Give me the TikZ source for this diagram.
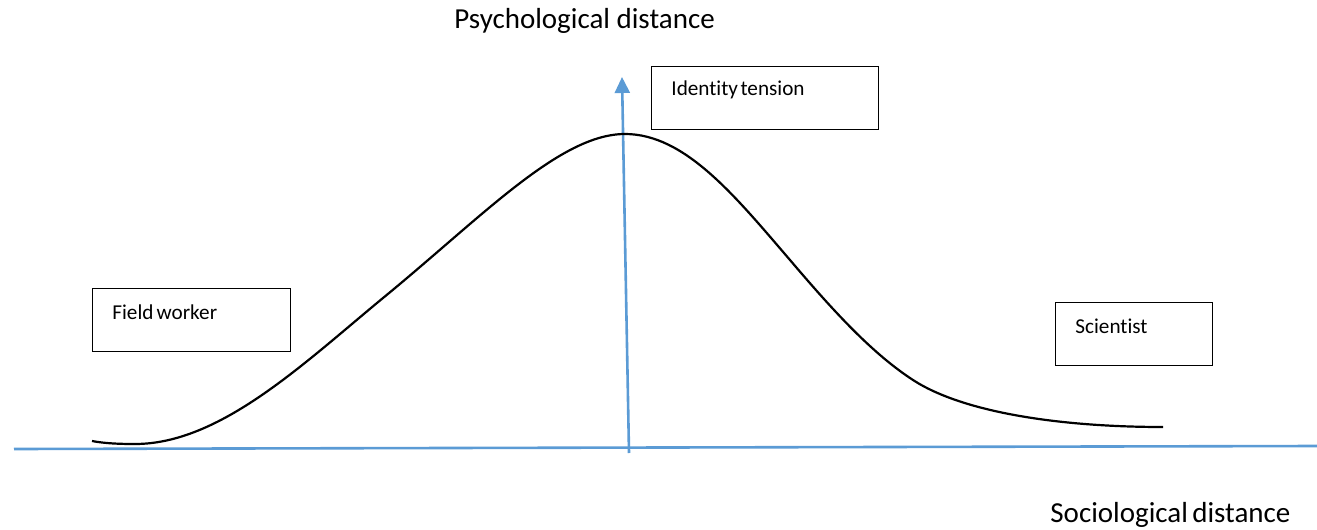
\documentclass[tikz,border=0pt]{standalone}
\usepackage{fontspec}
\setmainfont{Carlito}[Ligatures={NoCommon}]
\usetikzlibrary{arrows.meta}
\definecolor{axisblue}{RGB}{91,155,213}
\begin{document}
\begin{tikzpicture}[x=0.5pt,y=-0.5pt,
  axis/.style={draw=axisblue, line width=1.3pt},
  box/.style={draw=black, line width=0.6pt, fill=white, rectangle, inner sep=0pt, anchor=north west},
  boxtext/.style={anchor=west, inner sep=0pt, font=\fontsize{10.6}{12}\selectfont},
  axlabel/.style={inner sep=0pt, font=\fontsize{14.5}{16}\selectfont}]
\useasboundingbox (0,0) rectangle (1317,530);
% axes
\coordinate (xl) at (14,449);
\coordinate (xr) at (1317,446);
\coordinate (yb) at (629,453);
\coordinate (yt) at (622,77);
\draw[axis] (xl) -- (xr);
\draw[axis, -{Triangle[length=8pt,width=7.5pt]}] (yb) -- (yt);
% curve
\coordinate (c0) at (92,441);
\coordinate (c1) at (135,444);
\coordinate (c2) at (383,298);
\coordinate (c3) at (625,134);
\coordinate (c4) at (790,260);
\coordinate (c5) at (913,380);
\coordinate (c6) at (1163,427);
\draw[black, line width=1.1pt]
  (c0) .. controls (105,443.5) and (120,444) .. (c1)
       .. controls (220,444) and (303,364) .. (c2)
       .. controls (483,216) and (560,134) .. (c3)
       .. controls (685,134) and (735,196) .. (c4)
       .. controls (835,313) and (873,354) .. (c5)
       .. controls (963,412.5) and (1060,427) .. (c6);
% boxes
\node[box, minimum width=113.5pt, minimum height=31.5pt] (itbox) at (651,66) {};
\node[boxtext] (ittext) at (671,90) {Identity\hspace{0.12em}tension};
\node[box, minimum width=99pt, minimum height=31.5pt] (fwbox) at (92,288) {};
\node[boxtext] (fwtext) at (112,312) {Field\hspace{0.15em}worker};
\node[box, minimum width=78.5pt, minimum height=31.5pt] (scbox) at (1055,302) {};
\node[boxtext] (sctext) at (1075,326) {Scientist};
% axis labels
\node[axlabel, anchor=west] (psy) at (454,21) {Psychological distance};
\node[axlabel, anchor=west] (soc) at (1050,515) {Sociological\hspace{0.15em}distance};
\end{tikzpicture}
\end{document}
